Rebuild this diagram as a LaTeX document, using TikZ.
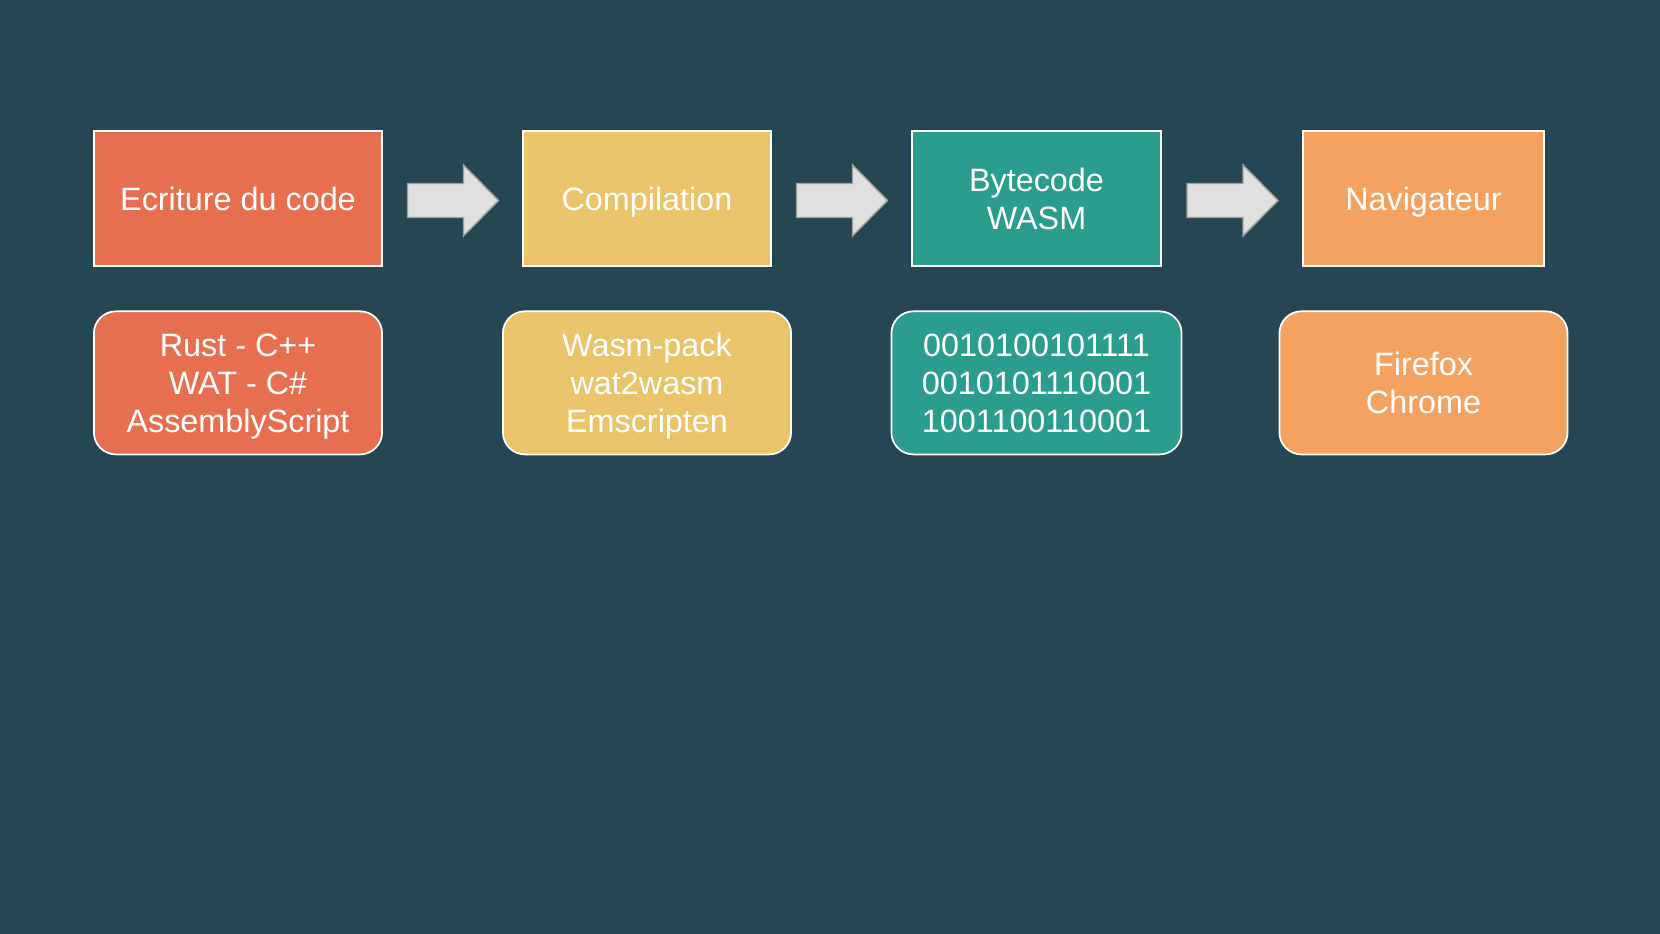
\documentclass[tikz,border=0pt]{standalone}
\usepackage{fontspec}
\setmainfont{Liberation Sans}
\usepackage{tikz}
\usetikzlibrary{positioning,calc}
\definecolor{bgdark}{HTML}{264653}
\definecolor{coral}{HTML}{E76F51}
\definecolor{sand}{HTML}{E9C46A}
\definecolor{tealgreen}{HTML}{2A9D8F}
\definecolor{peach}{HTML}{F4A261}
\definecolor{arrowgrey}{HTML}{E0E0E0}
\definecolor{arrowedge}{HTML}{A0A0A0}

\begin{document}
\begin{tikzpicture}[
    x=0.01cm, y=-0.01cm,
    every node/.style={align=center, text=white, font=\fontsize{9.2}{10.8}\selectfont},
    stage/.style={rectangle, draw=white, line width=0.5pt, minimum height=1.35cm, inner sep=0pt, text depth=0pt},
    detail/.style={rectangle, rounded corners=0.22cm, draw=white, line width=0.5pt, minimum height=1.43cm, minimum width=2.88cm, inner sep=0pt, text depth=0pt},
    flow/.style={draw=arrowedge, fill=arrowgrey, line width=0.4pt}
]

% Background
\fill[bgdark] (0,0) rectangle (1660,934);

% Pipeline stages
\node[stage, fill=coral, minimum width=2.88cm] (code) at (238,198.5) {Ecriture du code};
\node[stage, fill=sand, minimum width=2.48cm] (compil) at (647,198.5) {Compilation};
\node[stage, fill=tealgreen, minimum width=2.49cm] (bytecode) at (1036.5,198.5) {Bytecode\\WASM};
\node[stage, fill=peach, minimum width=2.41cm] (nav) at (1423.5,198.5) {Navigateur};

% Details under each stage
\node[detail, fill=coral, below=0.435cm of code] (langs) {Rust - C++\\WAT - C\#\\AssemblyScript};
\node[detail, fill=sand, below=0.435cm of compil] (outils) {Wasm-pack\\wat2wasm\\Emscripten};
\node[detail, fill=tealgreen, minimum width=2.9cm, below=0.435cm of bytecode] (binaire) {0010100101111\\0010101110001\\1001100110001};
\node[detail, fill=peach, below=0.435cm of nav] (navs) {Firefox\\Chrome};

% Block arrows between stages
\draw[flow] ($(code.east)!0.5!(compil.west)+(0,2)$) ++(-45,-17) -- ++(56,0) -- ++(0,-18.5) -- ++(35,35.5) -- ++(-35,35.5) -- ++(0,-18.5) -- ++(-56,0) -- cycle;
\draw[flow] ($(compil.east)!0.5!(bytecode.west)+(0,2)$) ++(-45,-17) -- ++(56,0) -- ++(0,-18.5) -- ++(35,35.5) -- ++(-35,35.5) -- ++(0,-18.5) -- ++(-56,0) -- cycle;
\draw[flow] ($(bytecode.east)!0.5!(nav.west)+(0,2)$) ++(-45,-17) -- ++(56,0) -- ++(0,-18.5) -- ++(35,35.5) -- ++(-35,35.5) -- ++(0,-18.5) -- ++(-56,0) -- cycle;

\end{tikzpicture}
\end{document}
